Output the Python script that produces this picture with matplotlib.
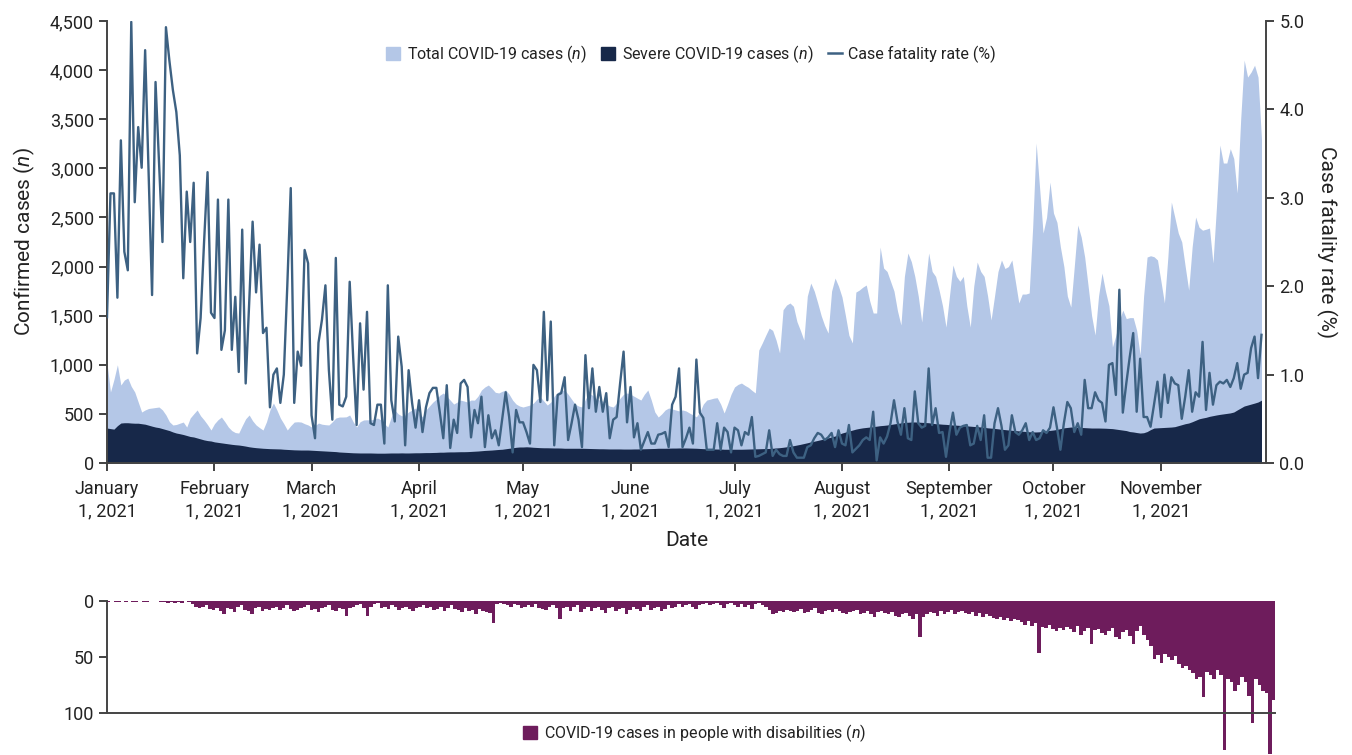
import numpy as np
import pandas as pd
import matplotlib
matplotlib.use('Agg')
import matplotlib.pyplot as plt
from matplotlib.patches import Patch
from matplotlib.lines import Line2D
from matplotlib.ticker import FuncFormatter

plt.rcParams['font.family'] = ['Roboto', 'DejaVu Sans']
plt.rcParams['mathtext.fontset'] = 'custom'
plt.rcParams['mathtext.rm'] = 'Roboto'
plt.rcParams['mathtext.it'] = 'Roboto:italic'

# daily counts, 1 Jan 2021 onward (one row per month)
total_cases = [
    1018, 723, 850, 1000, 794, 845, 865, 780, 723, 621, 519, 540, 555, 560, 565, 570, 540, 489, 420, 387, 392, 405, 417, 366, 458, 500, 540, 480, 438, 390, 336,
    400, 440, 468, 420, 366, 330, 310, 305, 380, 450, 489, 430, 387, 360, 336, 420, 540, 611, 540, 458, 400, 336, 380, 417, 420, 417, 400, 387,
    366, 380, 407, 395, 390, 387, 420, 458, 468, 468, 470, 489, 420, 366, 420, 438, 440, 438, 445, 458, 440, 400, 366, 470, 540, 500, 480, 489, 520, 540, 560,
    500, 470, 540, 580, 620, 650, 690, 713, 680, 640, 600, 620, 640, 631, 620, 641, 640, 680, 743, 774, 794, 760, 720, 713, 730, 743, 700, 640, 600, 580,
    570, 580, 590, 610, 650, 672, 630, 590, 620, 680, 720, 740, 743, 700, 650, 600, 580, 570, 650, 713, 690, 660, 641, 630, 600, 580, 570, 610, 660, 700, 713,
    700, 680, 660, 641, 700, 743, 640, 520, 468, 500, 540, 560, 550, 540, 530, 540, 530, 509, 490, 470, 520, 600, 641, 650, 660, 665, 600, 509, 600, 700,
    774, 800, 814, 790, 770, 740, 713, 1150, 1222, 1300, 1374, 1350, 1250, 1120, 1560, 1608, 1629, 1595, 1440, 1350, 1252, 1700, 1832, 1750, 1629, 1500, 1400, 1323, 1750, 1883, 1800,
    1690, 1500, 1300, 1222, 1740, 1761, 1790, 1812, 1650, 1527, 1527, 2199, 1985, 1950, 1850, 1750, 1550, 1405, 1900, 2138, 2050, 1900, 1700, 1435, 1800, 2138, 1950, 1900, 1761, 1600, 1384,
    1700, 2016, 1900, 1850, 1900, 1600, 1384, 1800, 2046, 1950, 1900, 1700, 1456, 1700, 1950, 2067, 1980, 2000, 2067, 1850, 1629, 1720, 1720, 1731, 2400, 3258, 2800, 2341, 2500, 2860,
    2545, 2450, 2199, 2000, 1700, 1588, 2000, 2423, 2300, 2097, 1800, 1500, 1303, 1700, 1934, 1750, 1600, 1181, 1300, 1450, 1557, 1470, 1480, 1480, 1350, 1100, 1700, 2097, 2110, 2100, 2067,
    1850, 1629, 2100, 2657, 2500, 2341, 2250, 2000, 1760, 2200, 2504, 2400, 2370, 2380, 2392, 2036, 2600, 3237, 3054, 3054, 3200, 3100, 2749, 3500, 4102, 3929, 3980, 4050, 3929, 3300,
]

severe_cases = [
    356, 350, 345, 380, 407, 410, 410, 407, 405, 405, 400, 395, 385, 375, 366, 360, 350, 340, 330, 316, 305, 298, 290, 280, 270, 265, 255, 245, 235, 228, 224,
    215, 210, 205, 200, 195, 190, 186, 183, 178, 172, 165, 160, 156, 153, 150, 148, 146, 145, 144, 143, 140, 138, 136, 134, 133, 132, 132, 132,
    130, 128, 126, 124, 122, 120, 118, 116, 112, 110, 108, 106, 104, 103, 102, 102, 102, 102, 101, 100, 100, 100, 101, 102, 102, 102, 103, 102, 102, 103, 104,
    104, 105, 106, 106, 107, 108, 110, 110, 112, 113, 113, 114, 115, 115, 116, 118, 120, 122, 125, 128, 130, 132, 135, 138, 140, 145, 150, 155, 160, 163,
    163, 165, 163, 160, 158, 156, 155, 155, 154, 153, 153, 152, 150, 150, 150, 150, 150, 150, 149, 148, 147, 146, 145, 145, 144, 143, 143, 143, 143, 142, 142,
    142, 143, 143, 144, 145, 146, 147, 148, 150, 150, 150, 151, 152, 152, 153, 153, 153, 152, 151, 150, 148, 146, 145, 144, 143, 142, 142, 140, 140, 140,
    140, 140, 140, 141, 142, 143, 144, 145, 146, 147, 148, 150, 153, 156, 160, 165, 170, 176, 183, 190, 198, 206, 215, 222, 230, 238, 247, 256, 265, 275, 290,
    305, 315, 325, 335, 345, 352, 358, 362, 366, 370, 375, 380, 383, 387, 392, 398, 403, 408, 412, 415, 417, 418, 416, 414, 412, 410, 405, 400, 398, 395, 393,
    390, 387, 385, 383, 380, 378, 375, 372, 370, 367, 363, 358, 355, 352, 348, 343, 340, 336, 333, 330, 327, 324, 321, 318, 316, 316, 318, 322, 328, 332,
    336, 342, 350, 358, 362, 366, 366, 364, 362, 360, 358, 356, 356, 356, 355, 354, 352, 350, 345, 340, 335, 330, 320, 316, 310, 305, 308, 320, 340, 356, 358,
    360, 362, 364, 366, 370, 380, 390, 400, 407, 420, 435, 450, 458, 465, 475, 482, 489, 495, 500, 505, 510, 519, 540, 560, 580, 590, 600, 610, 621, 640,
]

fatality_rate = [
    1.65, 3.05, 3.05, 1.87, 3.65, 2.39, 2.18, 4.99, 2.95, 3.80,
    3.34, 4.67, 3.30, 1.90, 4.31, 3.40, 2.50, 4.93, 4.55, 4.22,
    3.97, 3.48, 2.09, 3.07, 2.50, 3.17, 1.24, 1.64, 2.50, 3.29,
    1.70, 1.64, 2.98, 1.28, 1.50, 2.98, 1.28, 1.88, 1.03, 2.64,
    0.90, 1.80, 2.73, 1.93, 2.47, 1.47, 1.53, 0.63, 1.00, 1.07,
    0.68, 1.00, 2.00, 3.11, 0.68, 1.26, 1.10, 2.41, 2.26, 0.54,
    0.28, 1.36, 1.62, 2.01, 1.05, 0.49, 2.32, 0.66, 0.64, 0.75,
    2.05, 1.20, 0.43, 1.58, 0.83, 1.71, 0.45, 0.43, 0.66, 0.66,
    0.22, 2.01, 0.71, 0.47, 1.43, 1.09, 0.20, 1.05, 0.68, 0.40,
    0.71, 0.35, 0.63, 0.79, 0.85, 0.85, 0.57, 0.28, 0.88, 0.17,
    0.49, 0.34, 0.90, 0.94, 0.86, 0.29, 0.60, 0.45, 0.75, 0.18,
    0.54, 0.28, 0.37, 0.20, 0.50, 0.80, 0.52, 0.12, 0.60, 0.46,
    0.46, 0.35, 0.22, 1.11, 1.05, 0.69, 1.71, 0.71, 1.60, 0.20,
    0.77, 0.79, 0.97, 0.26, 0.45, 0.66, 0.49, 0.18, 1.22, 0.62,
    1.07, 0.58, 0.86, 0.58, 0.79, 0.28, 0.49, 0.52, 0.90, 1.26,
    0.46, 0.86, 0.29, 0.45, 0.15, 0.25, 0.35, 0.22, 0.22, 0.32,
    0.33, 0.35, 0.18, 0.66, 0.75, 1.07, 0.18, 0.28, 0.40, 0.22,
    1.17, 0.57, 0.51, 0.15, 0.15, 0.15, 0.45, 0.15, 0.40, 0.35,
    0.12, 0.40, 0.37, 0.20, 0.35, 0.32, 0.52, 0.07, 0.08, 0.10,
    0.12, 0.37, 0.08, 0.15, 0.10, 0.08, 0.08, 0.26, 0.12, 0.06,
    0.06, 0.06, 0.18, 0.20, 0.28, 0.34, 0.32, 0.26, 0.29, 0.34,
    0.18, 0.37, 0.22, 0.20, 0.43, 0.12, 0.16, 0.20, 0.26, 0.29,
    0.26, 0.58, 0.03, 0.29, 0.22, 0.30, 0.45, 0.71, 0.47, 0.32,
    0.62, 0.28, 0.26, 0.81, 0.45, 0.40, 0.42, 1.07, 0.43, 0.62,
    0.34, 0.35, 0.07, 0.35, 0.57, 0.32, 0.40, 0.42, 0.43, 0.20,
    0.22, 0.42, 0.26, 0.54, 0.06, 0.06, 0.45, 0.62, 0.42, 0.15,
    0.20, 0.54, 0.35, 0.32, 0.37, 0.45, 0.26, 0.35, 0.26, 0.28,
    0.37, 0.34, 0.40, 0.63, 0.40, 0.15, 0.45, 0.69, 0.62, 0.35,
    0.45, 0.32, 0.94, 0.62, 0.62, 0.80, 0.71, 0.68, 0.47, 1.11,
    1.13, 0.77, 1.96, 0.57, 0.90, 1.20, 1.47, 0.58, 1.18, 0.52,
    0.52, 0.41, 0.66, 0.92, 0.52, 1.00, 0.68, 0.97, 0.90, 0.88,
    0.50, 0.75, 1.05, 0.58, 0.80, 0.75, 1.37, 0.60, 1.02, 0.66,
    0.88, 0.92, 0.90, 0.94, 0.86, 0.96, 1.13, 0.84, 1.00, 1.02,
    1.30, 1.43, 0.96, 1.45,
]

disability_cases = [
    1, 0, 1, 1, 0, 1, 0, 1, 1, 0, 1, 1, 0, 0, 0, 1, 1, 2, 1, 2, 1, 2, 0, 1, 3, 5, 6, 5, 4, 7, 8,
    6, 9, 12, 6, 7, 10, 5, 4, 8, 9, 12, 6, 5, 9, 7, 8, 6, 5, 8, 6, 4, 7, 9, 8, 6, 5, 4, 8,
    7, 10, 6, 5, 4, 8, 9, 6, 7, 13, 6, 5, 4, 3, 6, 13, 5, 3, 2, 6, 5, 7, 4, 5, 8, 6, 5, 7, 9, 6, 5,
    4, 6, 5, 8, 7, 5, 9, 6, 4, 7, 8, 10, 6, 9, 8, 12, 7, 9, 10, 11, 20, 3, 2, 3, 4, 5, 3, 4, 6, 5,
    4, 5, 3, 6, 7, 8, 5, 4, 6, 16, 6, 5, 9, 5, 4, 10, 7, 5, 9, 6, 5, 8, 11, 6, 5, 9, 7, 6, 12, 8, 5,
    7, 9, 5, 4, 8, 6, 5, 9, 7, 4, 6, 5, 3, 5, 4, 3, 5, 7, 4, 3, 2, 4, 3, 2, 4, 6, 3, 2, 4, 5,
    3, 5, 4, 7, 3, 2, 4, 5, 8, 12, 11, 9, 10, 8, 9, 10, 9, 7, 11, 10, 8, 6, 11, 12, 9, 8, 10, 7, 9, 11, 12,
    10, 9, 8, 12, 11, 9, 12, 14, 10, 9, 11, 12, 10, 13, 14, 12, 11, 13, 16, 12, 32, 14, 12, 10, 11, 13, 9, 12, 10, 8, 12,
    10, 9, 11, 12, 10, 13, 11, 14, 12, 13, 15, 16, 14, 17, 15, 18, 16, 17, 19, 21, 18, 22, 20, 46, 23, 24, 21, 25, 27, 24,
    26, 23, 25, 28, 22, 30, 27, 24, 38, 26, 25, 29, 30, 27, 24, 32, 34, 28, 26, 31, 38, 27, 22, 30, 35, 40, 52, 48, 55, 47, 50,
    53, 49, 56, 60, 58, 62, 64, 70, 68, 86, 63, 66, 70, 62, 66, 133, 70, 72, 80, 75, 68, 72, 85, 109, 70, 75, 80, 82, 137, 88,
]

month_labels = ['January', 'February', 'March', 'April', 'May', 'June',
                'July', 'August', 'September', 'October', 'November']

LIGHT = '#b4c7e7'
NAVY = '#172849'
LINE = '#3d6182'
PURPLE = '#6e1c5c'
TXT = '#222222'
SPINE = '#444444'

dates = pd.date_range('2021-01-01', periods=len(total_cases), freq='D')
month_starts = pd.date_range('2021-01-01', periods=len(month_labels), freq='MS')
one_day = pd.Timedelta(days=1)

W, H = 1352, 755
fig = plt.figure(figsize=(W / 100, H / 100), dpi=100)

# top panel: case counts (areas) + fatality rate (line)
ax = fig.add_axes([107 / W, 1 - 463 / H, (1266 - 107) / W, (463 - 21) / H])
ax.fill_between(dates, 0, total_cases, color=LIGHT, lw=0)
ax.fill_between(dates, 0, severe_cases, color=NAVY, lw=0)
ax.set_xlim(dates[0], dates[0] + 334.3 * one_day)
ax.set_ylim(0, 4500)
ax.set_yticks(np.arange(0, 4501, 500))
ax.yaxis.set_major_formatter(FuncFormatter(lambda v, p: f'{int(v):,}'))
ax.set_xticks(month_starts)
ax.set_xticklabels([f'{m}\n1, 2021' for m in month_labels], linespacing=1.3)
ax.set_xlabel('Date', fontsize=15, color=TXT, labelpad=8)
ax.set_ylabel('Confirmed cases ($n$)', fontsize=15, color=TXT, labelpad=9)
for s in ['top', 'right']:
    ax.spines[s].set_visible(False)
for s in ['left', 'bottom']:
    ax.spines[s].set_color(SPINE)
    ax.spines[s].set_linewidth(1.4)
ax.tick_params(axis='both', labelsize=13, colors=TXT, length=6, width=1.2, direction='out')
ax.tick_params(axis='x', pad=6)

ax_r = ax.twinx()
ax_r.plot(dates, fatality_rate, color=LINE, lw=1.7)
ax_r.set_ylim(0, 5)
ax_r.set_yticks(np.arange(0, 5.01, 1.0))
ax_r.yaxis.set_major_formatter(FuncFormatter(lambda v, p: f'{v:.1f}'))
ax_r.set_ylabel('Case fatality rate (%)', fontsize=15, color=TXT, rotation=270, labelpad=24)
for s in ['top', 'left', 'bottom']:
    ax_r.spines[s].set_visible(False)
ax_r.spines['right'].set_color(SPINE)
ax_r.spines['right'].set_linewidth(1.4)
ax_r.tick_params(axis='y', labelsize=13, colors=TXT, length=6, width=1.2)

handles = [Patch(color=LIGHT), Patch(color=NAVY), Line2D([], [], color=LINE, lw=1.8)]
labels = ['Total COVID-19 cases ($n$)', 'Severe COVID-19 cases ($n$)', 'Case fatality rate (%)']
ax_r.legend(handles, labels, loc='center', bbox_to_anchor=(0.504, 0.925), ncol=3,
            frameon=False, fontsize=11.5, handlelength=0.9, handleheight=0.9,
            handletextpad=0.4, columnspacing=0.9, labelcolor=TXT)

# bottom panel: cases in people with disabilities, bars hanging down
ax_b = fig.add_axes([107 / W, 1 - 713 / H, (1275 - 107) / W, (713 - 601) / H])
ax_b.bar(dates, disability_cases, width=1.0, color=PURPLE, lw=0, clip_on=False)
ax_b.set_xlim(dates[0] - 0.5 * one_day, dates[-1] + 0.5 * one_day)
ax_b.set_ylim(100, 0)
ax_b.set_yticks([0, 50, 100])
ax_b.set_xticks([])
for s in ['top', 'right']:
    ax_b.spines[s].set_visible(False)
for s in ['left', 'bottom']:
    ax_b.spines[s].set_color(SPINE)
    ax_b.spines[s].set_linewidth(1.4)
ax_b.tick_params(axis='y', labelsize=13, colors=TXT, length=6, width=1.2)
ax_b.legend([Patch(color=PURPLE)], ['COVID-19 cases in people with disabilities ($n$)'],
            loc='center', bbox_to_anchor=(0.503, -0.18), frameon=False, fontsize=11.5,
            handlelength=0.9, handleheight=0.9, handletextpad=0.4, labelcolor=TXT)

fig.savefig('out.png', dpi=100)
